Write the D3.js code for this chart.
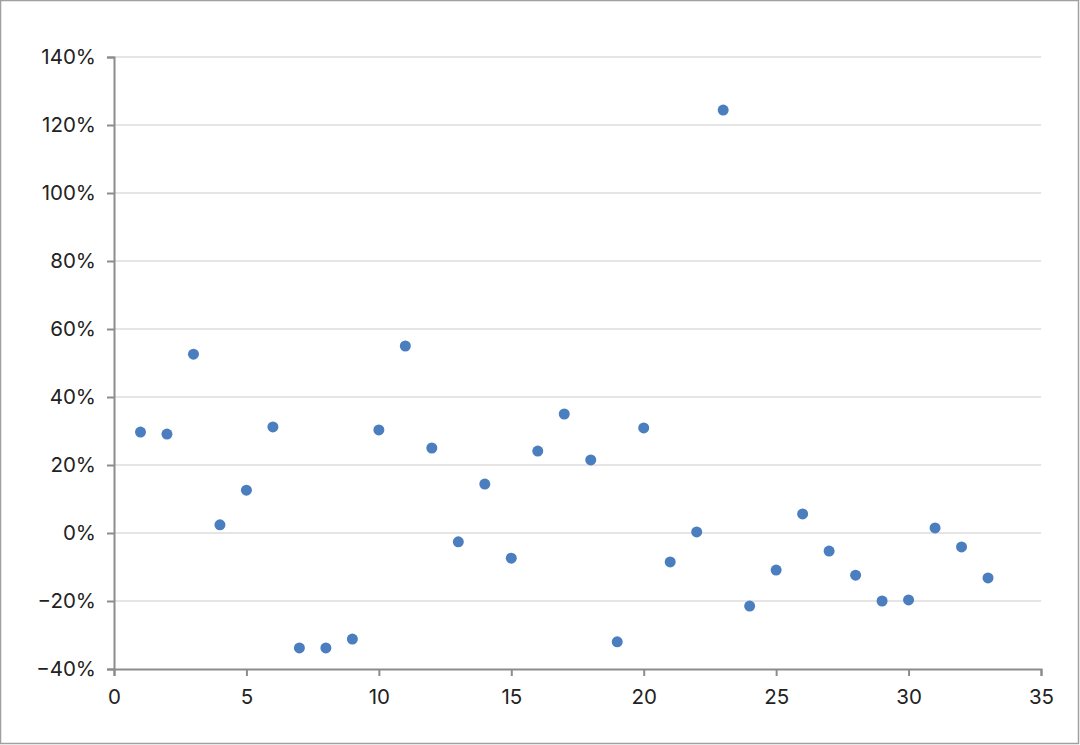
<!DOCTYPE html>
<html>
<head>
<meta charset="utf-8">
<script src="https://cdn.jsdelivr.net/npm/d3@7"></script>
<style>
  body { margin: 0; background: #fff; }
  svg { display: block; font-family: Inter, "Noto Sans", sans-serif; }
</style>
</head>
<body>
<svg id="chart" width="1080" height="745"></svg>
<script>
// values (x index, percent change)
const xs = [1,2,3,4,5,6,7,8,9,10,11,12,13,14,15,16,17,18,19,20,21,22,23,24,25,26,27,28,29,30,31,32,33];
const ys = [29.7,29.1,52.6,2.4,12.6,31.2,-33.8,-33.8,-31.2,30.3,55.0,25.0,-2.6,14.4,-7.4,24.1,35.0,21.5,-32.0,30.9,-8.5,0.3,124.4,-21.5,-10.9,5.6,-5.3,-12.4,-20.0,-19.7,1.5,-4.1,-13.2];
const xTicks = [0,5,10,15,20,25,30,35];
const yTicks = [-40,-20,0,20,40,60,80,100,120,140];

const W = 1080, H = 745;
const m = {left: 114, right: 39, top: 57, bottom: 76};
const svg = d3.select("#chart");

// outer frame
svg.append("rect").attr("x", 0.5).attr("y", 0.5)
  .attr("width", W - 2).attr("height", H - 2)
  .attr("fill", "none").attr("stroke", "#a0a0a0").attr("stroke-width", 1.5);

const x = d3.scaleLinear().domain([0, 35]).range([m.left, W - m.right]);
const y = d3.scaleLinear().domain([-40, 140]).range([H - m.bottom, m.top]);

// gridlines
svg.append("g").selectAll("line")
  .data(yTicks.filter(t => t > -40)).join("line")
  .attr("x1", m.left).attr("x2", W - m.right)
  .attr("y1", d => y(d)).attr("y2", d => y(d))
  .attr("stroke", "#dcdcdc").attr("stroke-width", 1.5);

const fmt = d => (d < 0 ? "\u2212" + Math.abs(d) : d) + "%";

const yAxis = svg.append("g")
  .attr("transform", `translate(${m.left},0)`)
  .call(d3.axisLeft(y).tickValues(yTicks).tickFormat(fmt).tickSize(7).tickPadding(11));

const xAxis = svg.append("g")
  .attr("transform", `translate(0,${H - m.bottom})`)
  .call(d3.axisBottom(x).tickValues(xTicks).tickSize(7).tickPadding(13));

[yAxis, xAxis].forEach(g => {
  g.select(".domain").attr("stroke", "#8c8c8c").attr("stroke-width", 2);
  g.selectAll(".tick line").attr("stroke", "#8c8c8c").attr("stroke-width", 2);
  g.selectAll("text").attr("fill", "#222").style("font-size", "20.5px")
    .style("font-family", "Inter, 'Noto Sans', sans-serif");
});

// points
svg.append("g").selectAll("circle")
  .data(xs.map((d, i) => [d, ys[i]])).join("circle")
  .attr("cx", d => x(d[0])).attr("cy", d => y(d[1]))
  .attr("r", 5.5).attr("fill", "#4a7ebf");
</script>
</body>
</html>
